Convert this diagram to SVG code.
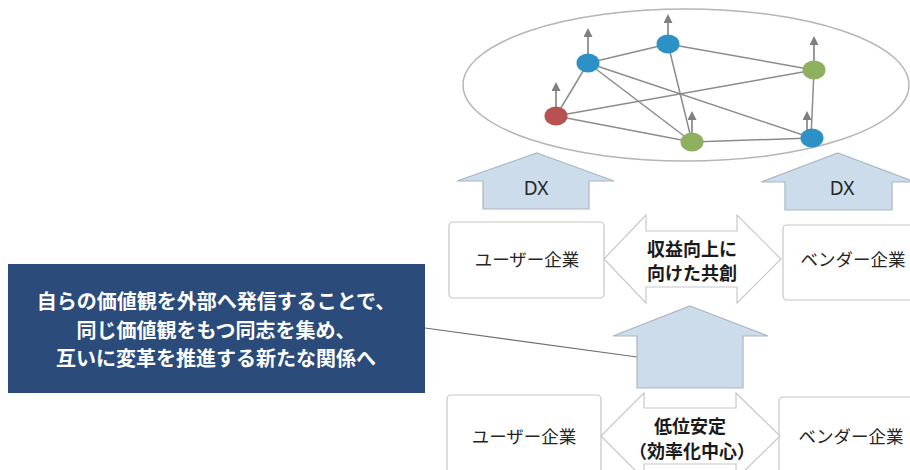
<svg xmlns="http://www.w3.org/2000/svg" width="910" height="470" viewBox="0 0 910 470">
<defs>
<marker id="ah" markerWidth="9" markerHeight="9" refX="7" refY="4.5" orient="auto" markerUnits="userSpaceOnUse" viewBox="0 0 9 9">
<path d="M0,0 L9,4.5 L0,9 Z" fill="#7f7f7f"/>
</marker>
<style>
.edge{stroke:#8c8c8c;stroke-width:1.5;fill:none}
.up{stroke:#7f7f7f;stroke-width:1.6;fill:none}
.blk{fill:#cddcea;stroke:#a9b6c4;stroke-width:1.2}
.box{fill:#fff;stroke:#c6c6c6;stroke-width:1.2}
.dbl{fill:#fff;stroke:#c8c8c8;stroke-width:1.2}
.jp{font-family:"Noto Sans CJK JP","Noto Sans",sans-serif;fill:#262626;text-anchor:middle}
.lbl{font-size:17.5px}
.bold{font-size:18px;font-weight:bold;fill:#1a1a1a}
.dx{font-family:"Noto Sans","Liberation Sans",sans-serif;font-size:19px;fill:#262626;text-anchor:middle}
.wt{font-family:"Noto Sans CJK JP",sans-serif;font-size:20px;font-weight:bold;fill:#fff;text-anchor:middle}
.nb{fill:#2e91c5}.ng{fill:#8fb05f}.nr{fill:#b85252}
</style>
</defs>
<rect width="910" height="470" fill="#fff"/>

<ellipse id="ecosystem" cx="686" cy="85" rx="223" ry="76" fill="none" stroke="#b5b5b5" stroke-width="1.5"/>

<g id="connectors">
<line class="edge" x1="588" y1="63" x2="668" y2="44"/>
<line class="edge" x1="668" y1="44" x2="814" y2="70"/>
<line class="edge" x1="588" y1="63" x2="556" y2="116"/>
<line class="edge" x1="588" y1="63" x2="692" y2="142"/>
<line class="edge" x1="588" y1="63" x2="812" y2="138"/>
<line class="edge" x1="668" y1="44" x2="692" y2="142"/>
<line class="edge" x1="556" y1="116" x2="814" y2="70"/>
<line class="edge" x1="556" y1="116" x2="692" y2="142"/>
<line class="edge" x1="692" y1="142" x2="812" y2="138"/>
<line class="edge" x1="814" y1="70" x2="811" y2="138"/>
<line class="up" x1="588" y1="55" x2="588" y2="30" marker-end="url(#ah)"/>
<line class="up" x1="668" y1="36" x2="668" y2="16" marker-end="url(#ah)"/>
<line class="up" x1="814" y1="61" x2="814" y2="38" marker-end="url(#ah)"/>
<line class="up" x1="556" y1="108" x2="556" y2="84" marker-end="url(#ah)"/>
<line class="up" x1="692" y1="134" x2="692" y2="113" marker-end="url(#ah)"/>
<line class="up" x1="807" y1="130" x2="807" y2="113" marker-end="url(#ah)"/>
<line x1="425" y1="328" x2="637" y2="357" stroke="#6f6f6f" stroke-width="1.1"/>
</g>

<g id="n-blue1"><ellipse class="nb" cx="588" cy="63" rx="11.5" ry="9.5"/></g>
<g id="n-blue2"><ellipse class="nb" cx="668" cy="44" rx="11.5" ry="9.5"/></g>
<g id="n-green1"><ellipse class="ng" cx="814" cy="70" rx="11.5" ry="9.5"/></g>
<g id="n-red"><ellipse class="nr" cx="556" cy="116" rx="11.5" ry="9.5"/></g>
<g id="n-green2"><ellipse class="ng" cx="692" cy="142" rx="11.5" ry="9.5"/></g>
<g id="n-blue3"><ellipse class="nb" cx="812" cy="138" rx="11.5" ry="9.5"/></g>

<g id="dx-left">
<path class="blk" d="M537,153 L614,181 L589,181 L589,209 L483,209 L483,181 L457,181 Z"/>
<text class="dx" x="536" y="195">DX</text>
</g>
<g id="dx-right">
<path class="blk" d="M838,153 L915,182 L892,182 L892,210 L785,210 L785,182 L761,182 Z"/>
<text class="dx" x="842" y="195">DX</text>
</g>

<g id="user-top">
<rect class="box" x="449" y="222" width="155" height="76" rx="4"/>
<text class="jp lbl" x="527" y="266">ユーザー企業</text>
</g>
<g id="vendor-top">
<rect class="box" x="783" y="225" width="150" height="75" rx="4"/>
<text class="jp lbl" x="853" y="266">ベンダー企業</text>
</g>
<g id="cocreation">
<path class="dbl" d="M604,259 L646,215 L646,231 L737,231 L737,215 L781,259 L737,303 L737,287 L646,287 L646,303 Z"/>
<text class="jp bold" x="692" y="256">収益向上に</text>
<text class="jp bold" x="692" y="280">向けた共創</text>
</g>

<g id="up-center">
<path class="blk" d="M690,306 L768,336 L743,336 L743,388 L637,388 L637,336 L613,336 Z"/>
</g>

<g id="message">
<rect x="8" y="264" width="417" height="129" fill="#2b4c7b"/>
<text class="wt" x="216" y="309">自らの価値観を外部へ発信することで、</text>
<text class="wt" x="216" y="338">同じ価値観をもつ同志を集め、</text>
<text class="wt" x="216" y="366">互いに変革を推進する新たな関係へ</text>
</g>

<g id="user-bottom">
<rect class="box" x="447" y="395" width="154" height="100" rx="4"/>
<text class="jp lbl" x="524" y="443">ユーザー企業</text>
</g>
<g id="vendor-bottom">
<rect class="box" x="779" y="397" width="150" height="100" rx="4"/>
<text class="jp lbl" x="851" y="443">ベンダー企業</text>
</g>
<g id="stable">
<path class="dbl" d="M601,436 L644,393 L644,408 L736,408 L736,393 L780,436 L736,479 L736,464 L644,464 L644,479 Z"/>
<text class="jp bold" x="690" y="433">低位安定</text>
<text class="jp bold" x="692" y="458">（効率化中心）</text>
</g>
</svg>
